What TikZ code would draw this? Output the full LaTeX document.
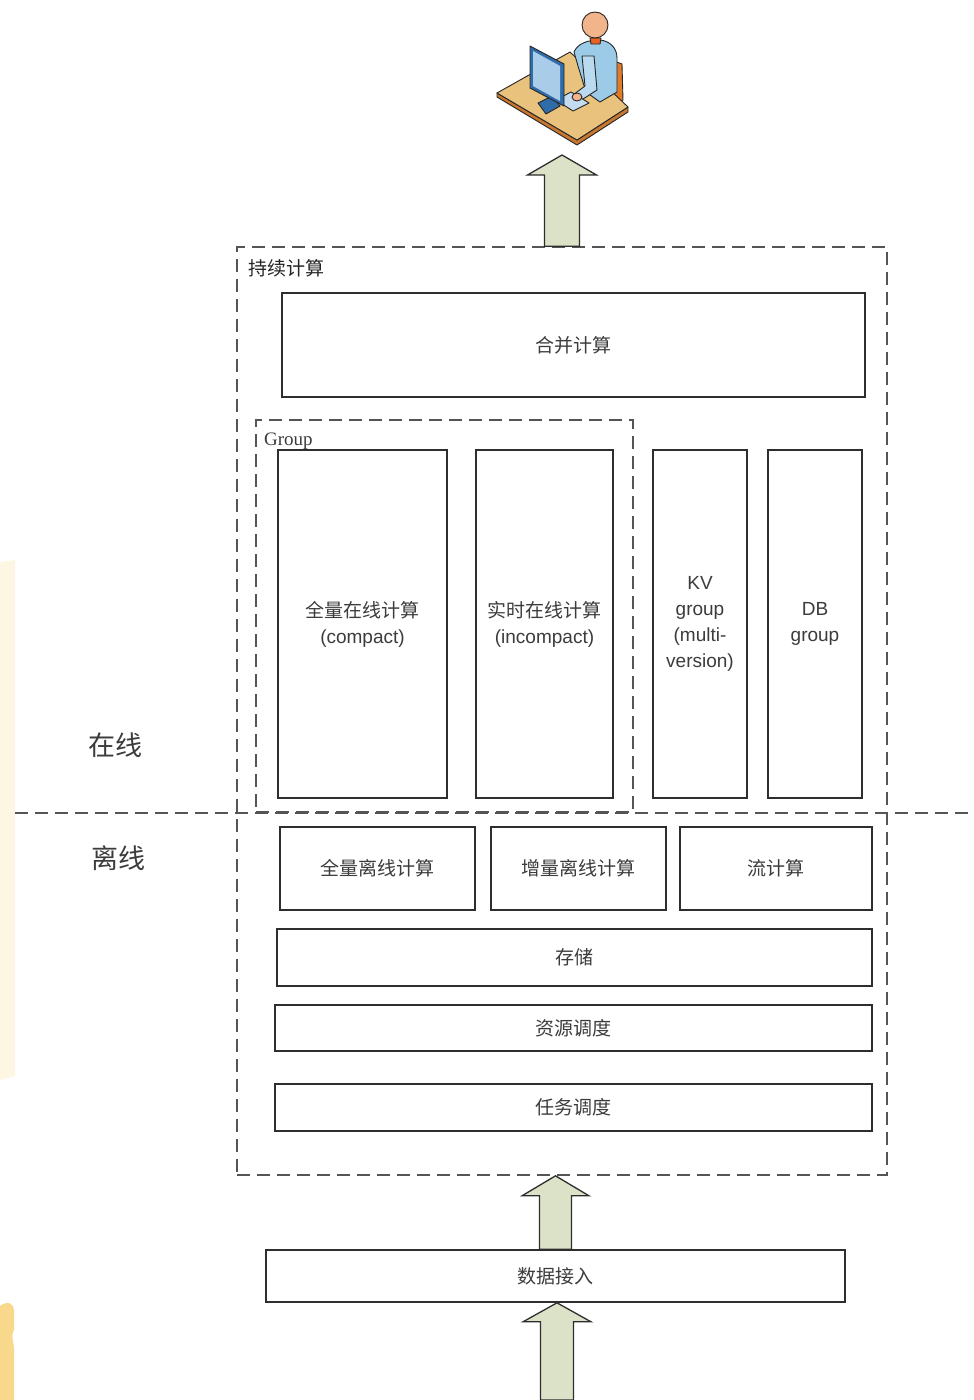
\documentclass[tikz,border=0pt]{standalone}
\usepackage{fontspec}
\usetikzlibrary{calc}
\newfontfamily\cjk{Noto Sans CJK SC}
\newfontfamily\latin{Liberation Sans}
\newfontfamily\serifl{Liberation Serif}

\definecolor{inkline}{HTML}{2E2E2E}
\definecolor{dashline}{HTML}{555555}
\definecolor{txt}{HTML}{3C3C3C}
\definecolor{arrowfill}{HTML}{DCE2C8}
\definecolor{deskfill}{HTML}{E9C27E}
\definecolor{deskedge}{HTML}{C9762E}
\definecolor{shirt}{HTML}{9CCBE8}
\definecolor{skin}{HTML}{F2B48A}
\definecolor{screen}{HTML}{A9CDE8}
\definecolor{monitor}{HTML}{2F6CA8}
\definecolor{chair}{HTML}{E07B2A}
\definecolor{paleband}{HTML}{FDF6E2}
\definecolor{goldband}{HTML}{F8D88A}

\tikzset{
  stepbox/.style={draw=inkline, line width=1.6pt, fill=white, inner sep=0pt,
    text=txt, align=center, font=\cjk\fontsize{19}{26}\selectfont},
  dashbox/.style={draw=dashline, line width=1.6pt, dash pattern=on 13pt off 7pt, inner sep=0pt},
  dashrule/.style={draw=dashline, line width=1.6pt, dash pattern=on 13pt off 7pt},
  blockarrow/.style={draw=inkline, line width=1.3pt, fill=arrowfill, line join=miter},
  sidelabel/.style={text=txt, font=\cjk\fontsize{27}{30}\selectfont},
  iconline/.style={draw=black!85, line width=0.9pt, line join=round},
}

% block arrow from a base point up to a tip point:
% #1 base, #2 tip, #3 shaft half width, #4 head half width, #5 head height
\newcommand\blockup[5]{%
  \draw[blockarrow] let \p1=(#1), \p2=(#2) in
    (\x1-#3,\y1) -- (\x1-#3,\y2-#5) -- (\x1-#4,\y2-#5) -- (\x2,\y2)
    -- (\x1+#4,\y2-#5) -- (\x1+#3,\y2-#5) -- (\x1+#3,\y1) -- cycle;}

\begin{document}
\begin{tikzpicture}[x=1pt,y=-1pt]
\useasboundingbox[fill=white] (0,0) rectangle (974,1400);

% soft yellow bands at the left edge
\fill[paleband] (0,562) -- (15,560) -- (15,1076) -- (0,1080) -- cycle;
\fill[goldband] (0,1306) .. controls (8,1300) and (14,1304) .. (14,1310)
  -- (14,1330) .. controls (10,1336) and (15,1345) .. (14,1352)
  -- (14,1400) -- (0,1400) -- cycle;

% ---------- user at a workstation ----------
\begin{scope}
  % chair back
  \filldraw[iconline, fill=chair] (611,60) -- (622,64) -- (623,100) -- (612,106) -- cycle;
  % desk edge and top
  \filldraw[iconline, fill=deskedge] (497,93) -- (577,140) -- (628,107) -- (628,112) -- (577,145) -- (497,97) -- cycle;
  \filldraw[iconline, fill=deskfill] (497,93) -- (570,52) -- (628,107) -- (577,140) -- cycle;
  % torso
  \filldraw[iconline, fill=shirt] (574,52) .. controls (578,43) and (588,40) .. (600,40)
    .. controls (610,41) and (617,48) .. (617,58) -- (617,92) -- (600,102) -- (586,92)
    -- (578,66) -- cycle;
  % arm towards the keyboard
  \filldraw[iconline, fill=shirt!70!white] (582,56) -- (594,56) -- (597,90) -- (580,101) -- (573,95) -- (585,86) -- cycle;
  % keyboard
  \filldraw[iconline, fill=screen!70!white] (556,100) -- (571,92) -- (589,103) -- (573,111) -- cycle;
  % hand
  \filldraw[iconline, fill=skin] (577,97) circle[x radius=5, y radius=4];
  % neck and head
  \filldraw[iconline, fill=chair!80!red] (590,38) -- (601,38) -- (600,44) -- (591,44) -- cycle;
  \filldraw[iconline, fill=skin] (595,25) circle[radius=13];
  % monitor stand and screen
  \filldraw[iconline, fill=monitor] (538,103) -- (552,96) -- (560,106) -- (546,114) -- cycle;
  \filldraw[iconline, fill=monitor] (530,46) -- (564,64) -- (564,106) -- (530,88) -- cycle;
  \filldraw[draw=none, fill=screen] (533,51) -- (560,66) -- (560,101) -- (533,86) -- cycle;
\end{scope}
\coordinate (user) at (562,155);

% ---------- outer frames ----------
\node[dashbox, minimum width=650, minimum height=928] (persist) at (562,711) {};
\node[anchor=west, text=black!85, font=\cjk\fontsize{19}{22}\selectfont] (persistlbl) at (245,268) {持续计算};

\coordinate (sepL) at (15,813);
\coordinate (sepR) at (974,813);
\draw[dashrule] (sepL) -- (sepR);

\node[sidelabel] (online) at (115,745) {在线};
\node[sidelabel] (offline) at (118,858) {离线};

% ---------- online layer ----------
\node[stepbox, minimum width=583, minimum height=104] (merge) at (573.5,345) {合并计算};

\node[dashbox, minimum width=377, minimum height=392] (group) at (444.5,616) {};

\node[stepbox, minimum width=169, minimum height=348] (fullon) at (362.5,624)
  {全量在线计算\\{\latin (compact)}};
\node[stepbox, minimum width=137, minimum height=348] (rton) at (544.5,624)
  {实时在线计算\\{\latin (incompact)}};
\node[anchor=west, text=txt, font=\serifl\fontsize{19}{22}\selectfont, inner sep=0pt] (grouplbl) at (264,441) {Group};
\node[stepbox, minimum width=94, minimum height=348, font=\latin\fontsize{19}{26}\selectfont] (kv) at (700,624)
  {KV\\group\\(multi-\\version)};
\node[stepbox, minimum width=94, minimum height=348, font=\latin\fontsize{19}{26}\selectfont] (db) at (815,624)
  {DB\\group};

% ---------- offline layer ----------
\node[stepbox, minimum width=195, minimum height=83] (fulloff) at (377.5,868.5) {全量离线计算};
\node[stepbox, minimum width=175, minimum height=83] (incoff) at (578.5,868.5) {增量离线计算};
\node[stepbox, minimum width=192, minimum height=83] (stream) at (776,868.5) {流计算};
\node[stepbox, minimum width=595, minimum height=57] (store) at (574.5,957.5) {存储};
\node[stepbox, minimum width=597, minimum height=46] (res) at (573.5,1028) {资源调度};
\node[stepbox, minimum width=597, minimum height=47] (task) at (573.5,1107.5) {任务调度};

% ---------- data ingestion ----------
\node[stepbox, minimum width=579, minimum height=52] (ingest) at (555.5,1276) {数据接入};
\coordinate (source) at (557,1400);

% ---------- block arrows ----------
\blockup{persist.north}{user}{17.5pt}{34.5pt}{20pt}
\blockup{ingest.north}{persist.south -| ingest.north}{16pt}{33.5pt}{20pt}
\blockup{source}{ingest.south -| source}{16.5pt}{34pt}{19pt}

\end{tikzpicture}
\end{document}
